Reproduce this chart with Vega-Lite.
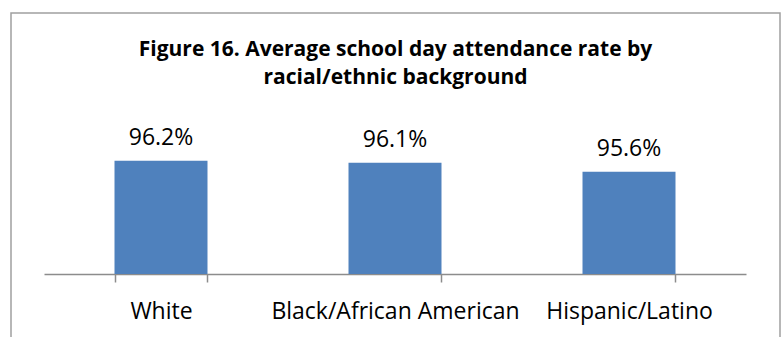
{
  "$schema": "https://vega.github.io/schema/vega-lite/v6.json",
  "autosize": {"type": "none"},
  "width": 769,
  "height": 330,
  "padding": {"left": 11, "top": 13, "right": 4, "bottom": 0},
  "background": "white",
  "config": {
    "view": {"stroke": "#a0a0a0", "strokeWidth": 1.5},
    "font": "Open Sans"
  },
  "title": {
    "text": ["Figure 16.  Average school day attendance rate by", "racial/ethnic background"],
    "anchor": "middle",
    "font": "Open Sans",
    "fontSize": 21,
    "fontWeight": "bold",
    "color": "#000000",
    "lineHeight": 28,
    "baseline": "alphabetic",
    "offset": -92
  },
  "data": {
    "values": [
      {"group": "White", "rate": 96.2, "label": "96.2%"},
      {"group": "Black/African American", "rate": 96.1, "label": "96.1%"},
      {"group": "Hispanic/Latino", "rate": 95.6, "label": "95.6%"}
    ]
  },
  "encoding": {
    "x": {
      "field": "group",
      "type": "nominal",
      "sort": null,
      "scale": {"range": [33, 735], "paddingInner": 0.6026, "paddingOuter": 0.3013},
      "axis": {
        "title": null,
        "labelAngle": 0,
        "labelFont": "Open Sans",
        "labelFontSize": 23,
        "labelColor": "#000000",
        "labelPadding": 18,
        "labelLimit": 0,
        "tickBand": "extent",
        "tickSize": 8,
        "tickColor": "#8c8c8c",
        "tickWidth": 1.5,
        "domainColor": "#8c8c8c",
        "domainWidth": 1.5,
        "offset": -69,
        "grid": false
      }
    }
  },
  "layer": [
    {
      "mark": {"type": "bar", "color": "#4F81BD"},
      "encoding": {
        "y": {
          "field": "rate",
          "type": "quantitative",
          "scale": {"domain": [90, 100], "range": [261, 78.5], "zero": false},
          "axis": null
        },
        "y2": {"datum": 90}
      }
    },
    {
      "mark": {"type": "text", "baseline": "alphabetic", "dy": -16, "fontSize": 23, "font": "Open Sans", "color": "#000000"},
      "encoding": {
        "y": {"field": "rate", "type": "quantitative"},
        "text": {"field": "label"}
      }
    }
  ]
}
